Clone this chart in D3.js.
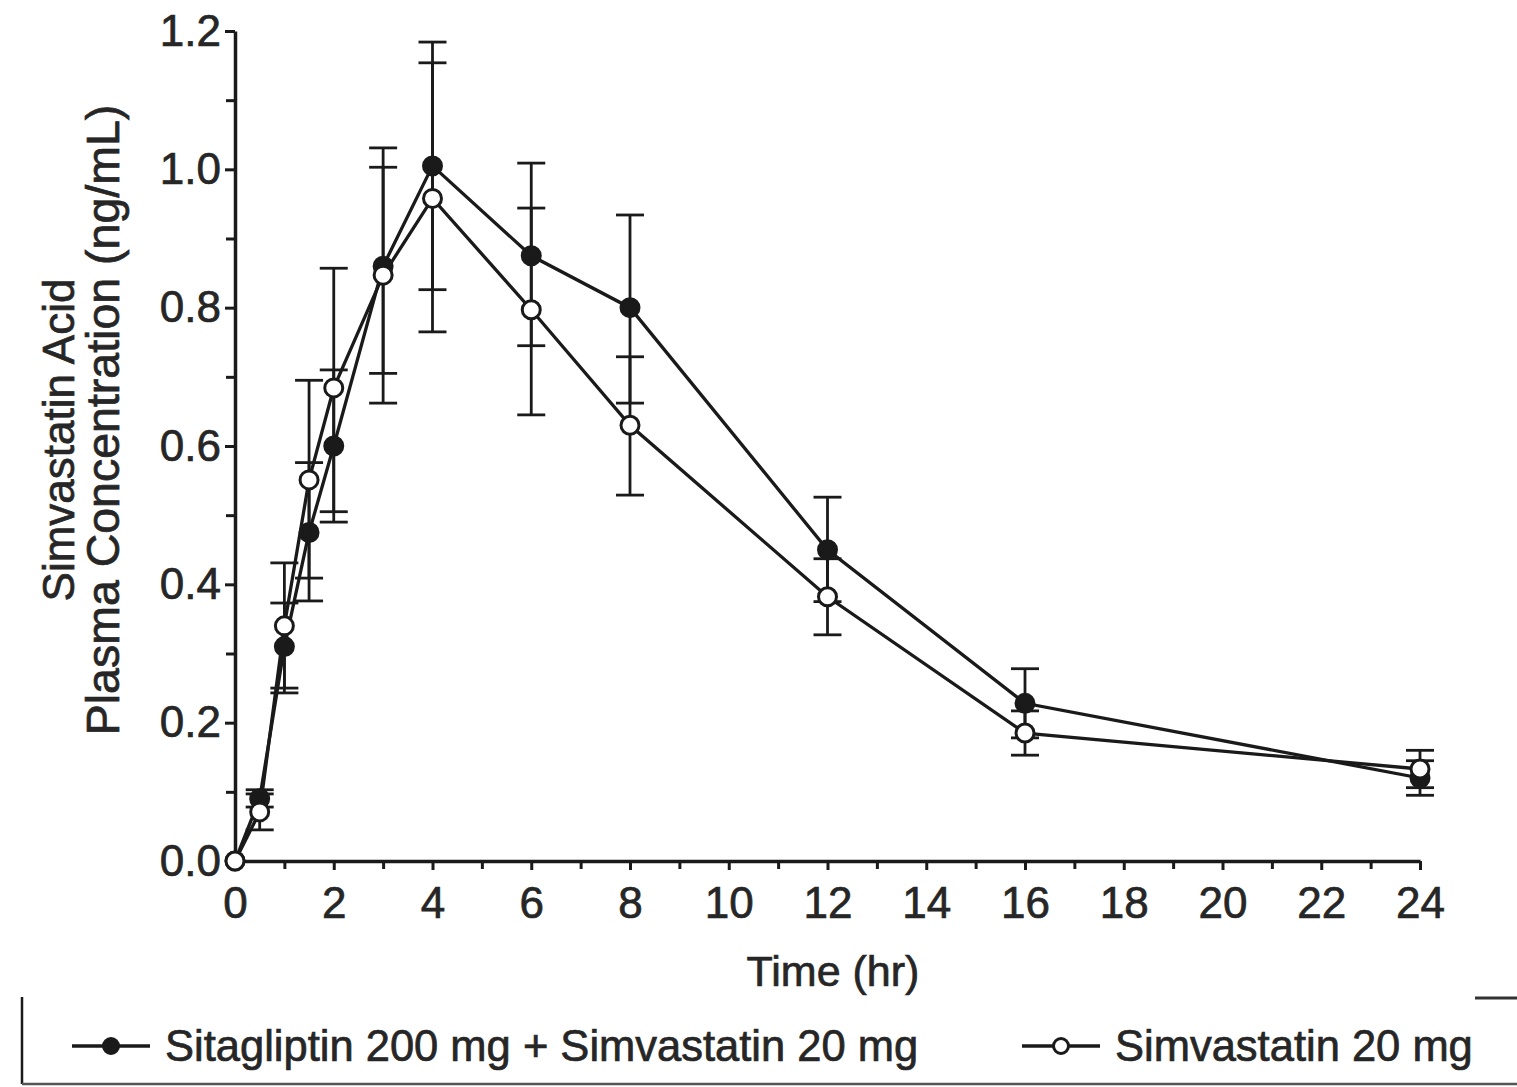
<!DOCTYPE html>
<html><head><meta charset="utf-8">
<script src="https://cdn.jsdelivr.net/npm/d3@7"></script>
<style>
html,body{margin:0;padding:0;background:#fff;}
svg text{font-family:"Liberation Sans",Arial,sans-serif;fill:#262626;stroke:#262626;stroke-width:0.7px;}
</style></head>
<body><svg id="c" width="1517" height="1087"></svg>
<script>
// ---- data ----
const times = [0, 0.5, 1, 1.5, 2, 3, 4, 6, 8, 12, 16, 24];
const comboMean = [0, 0.09, 0.31, 0.475, 0.60, 0.86, 1.005, 0.875, 0.80, 0.45, 0.228, 0.12];
const comboLow  = [0, 0.078, 0.243, 0.376, 0.49, 0.662, 0.826, 0.745, 0.662, 0.375, 0.178, 0.095];
const comboHigh = [0, 0.103, 0.373, 0.576, 0.71, 1.031, 1.184, 1.009, 0.934, 0.526, 0.278, 0.145];
const simvaMean = [0, 0.071, 0.34, 0.551, 0.684, 0.847, 0.958, 0.797, 0.63, 0.382, 0.185, 0.133];
const simvaLow  = [0, 0.045, 0.25, 0.409, 0.505, 0.705, 0.765, 0.645, 0.529, 0.327, 0.153, 0.106];
const simvaHigh = [0, 0.097, 0.431, 0.695, 0.857, 1.003, 1.154, 0.944, 0.729, 0.437, 0.217, 0.16];
const xTicks = [0, 2, 4, 6, 8, 10, 12, 14, 16, 18, 20, 22, 24];
const yTicks = [0.0, 0.2, 0.4, 0.6, 0.8, 1.0, 1.2];
const seriesNames = ["Sitagliptin 200 mg + Simvastatin 20 mg", "Simvastatin 20 mg"];
const xTitle = "Time (hr)";
const yTitle1 = "Simvastatin Acid";
const yTitle2 = "Plasma Concentration (ng/mL)";

// ---- layout ----
const svg = d3.select("#c");
const x = d3.scaleLinear().domain([0, 24]).range([235, 1420]);
const y = d3.scaleLinear().domain([0, 1.2]).range([861, 31]);
const ink = "#1a1a1a";

// minor ticks
svg.append("g").attr("transform", `translate(0,${y(0)})`)
  .call(d3.axisBottom(x).tickValues(d3.range(1, 24, 2)).tickSize(8).tickFormat(""))
  .call(g => { g.select(".domain").remove(); g.selectAll("line").attr("stroke", ink).attr("stroke-width", 3); });
svg.append("g").attr("transform", `translate(${x(0)},0)`)
  .call(d3.axisLeft(y).tickValues(d3.range(0.1, 1.2, 0.2)).tickSize(9).tickFormat(""))
  .call(g => { g.select(".domain").remove(); g.selectAll("line").attr("stroke", ink).attr("stroke-width", 3); });

// major axes
svg.append("g").attr("transform", `translate(0,${y(0)})`)
  .call(d3.axisBottom(x).tickValues(xTicks).tickSize(9).tickSizeOuter(0).tickPadding(17).tickFormat(d3.format("d")))
  .call(g => {
    g.select(".domain").attr("stroke", ink).attr("stroke-width", 3.5);
    g.selectAll("line").attr("stroke", ink).attr("stroke-width", 3);
    g.selectAll("text").attr("font-size", 44).attr("fill", null);
  });
svg.append("g").attr("transform", `translate(${x(0)},0)`)
  .call(d3.axisLeft(y).tickValues(yTicks).tickSize(10).tickSizeOuter(0).tickPadding(4).tickFormat(d3.format(".1f")))
  .call(g => {
    g.select(".domain").attr("stroke", ink).attr("stroke-width", 3.5);
    g.selectAll("line").attr("stroke", ink).attr("stroke-width", 3);
    g.selectAll("text").attr("font-size", 44).attr("fill", null);
  });

// titles
svg.append("text").attr("x", 833).attr("y", 986).attr("text-anchor", "middle").attr("font-size", 43).text(xTitle);
svg.append("text").attr("transform", "translate(74,440) rotate(-90)").attr("text-anchor", "middle").attr("font-size", 44).text(yTitle1);
svg.append("text").attr("transform", "translate(119,420) rotate(-90)").attr("text-anchor", "middle").attr("font-size", 46.5).text(yTitle2);

// series
const series = [
  {mean: comboMean, lo: comboLow, hi: comboHigh, fill: ink},
  {mean: simvaMean, lo: simvaLow, hi: simvaHigh, fill: "#fff"}
];
const line = d3.line().x(d => x(d.t)).y(d => y(d.v));
const capW = 14;

series.forEach(s => {
  const pts = times.map((t, i) => ({t, v: s.mean[i], lo: s.lo[i], hi: s.hi[i]}));
  const g = svg.append("g");
  const eb = g.selectAll(".eb").data(pts.filter(p => p.hi > p.lo)).join("g");
  eb.append("line").attr("x1", d => x(d.t)).attr("x2", d => x(d.t))
    .attr("y1", d => y(d.lo)).attr("y2", d => y(d.hi)).attr("stroke", ink).attr("stroke-width", 2.8);
  eb.append("line").attr("x1", d => x(d.t) - capW).attr("x2", d => x(d.t) + capW)
    .attr("y1", d => y(d.hi)).attr("y2", d => y(d.hi)).attr("stroke", ink).attr("stroke-width", 2.8);
  eb.append("line").attr("x1", d => x(d.t) - capW).attr("x2", d => x(d.t) + capW)
    .attr("y1", d => y(d.lo)).attr("y2", d => y(d.lo)).attr("stroke", ink).attr("stroke-width", 2.8);
  s.g = g; s.pts = pts;
});
series.forEach(s => {
  s.g.append("path").datum(s.pts).attr("d", line).attr("fill", "none").attr("stroke", ink).attr("stroke-width", 3.3);
});
series.forEach(s => {
  s.g.selectAll("circle").data(s.pts).join("circle")
    .attr("cx", d => x(d.t)).attr("cy", d => y(d.v)).attr("r", 9)
    .attr("fill", s.fill).attr("stroke", ink).attr("stroke-width", 3);
});

// legend
const lg = svg.append("g");
lg.append("line").attr("x1", 22).attr("x2", 22).attr("y1", 997).attr("y2", 1084).attr("stroke", ink).attr("stroke-width", 2.5);
lg.append("line").attr("x1", 22).attr("x2", 1517).attr("y1", 1084).attr("y2", 1084).attr("stroke", "#555").attr("stroke-width", 2.5);
lg.append("line").attr("x1", 1475).attr("x2", 1517).attr("y1", 998).attr("y2", 998).attr("stroke", "#333").attr("stroke-width", 3);
const legendItems = [
  {name: seriesNames[0], x0: 72, tx: 165, fill: ink},
  {name: seriesNames[1], x0: 1022, tx: 1115, fill: "#fff"}
];
legendItems.forEach(it => {
  lg.append("line").attr("x1", it.x0).attr("x2", it.x0 + 78).attr("y1", 1046).attr("y2", 1046).attr("stroke", ink).attr("stroke-width", 3.5);
  lg.append("circle").attr("cx", it.x0 + 39).attr("cy", 1046).attr("r", 7.5).attr("fill", it.fill).attr("stroke", ink).attr("stroke-width", 3);
  lg.append("text").attr("x", it.tx).attr("y", 1061).attr("font-size", 43.5).text(it.name);
});
</script></body></html>
